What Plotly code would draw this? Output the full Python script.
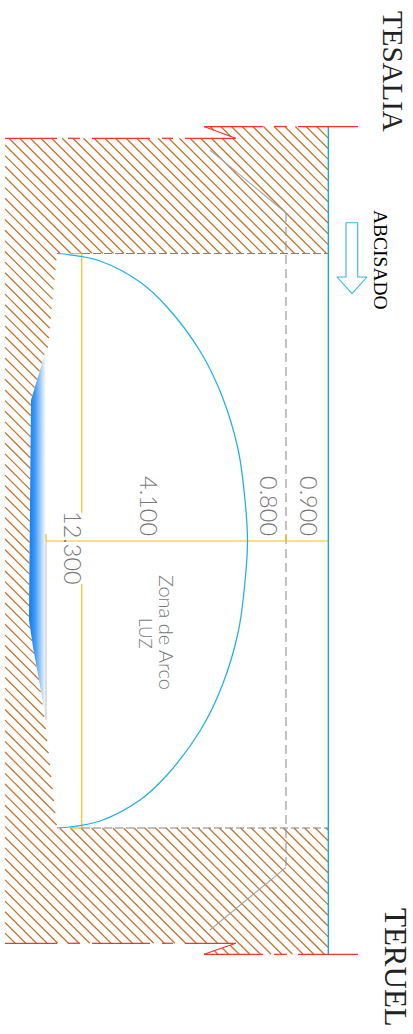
import plotly.graph_objects as go

W, H = 413, 1034

# Section outline of the rock mass around the opening
rock_x = [5, 235.7, 204, 328, 328, 57, 48, 45, 31, 30, 29, 33, 39, 45, 57, 328, 328, 204, 235.7, 5]
rock_y = [138.3, 138.3, 126.5, 126.5, 253.5, 253.5, 347, 353, 400, 507, 620, 647, 680, 722, 828, 828, 954.3, 954.3, 943.3, 943.3]
hatch_first, hatch_step, hatch_count = 140.0, 10.65, 100

# Arc of the light zone
arc_x = [57, 70, 100, 140, 167, 200, 222, 238, 245, 247.5, 245, 238, 222, 200, 167, 140, 100, 70, 57]
arc_y = [253.5, 254.8, 261, 282, 307, 351, 396, 449, 500, 541, 582, 633, 686, 731, 775, 800, 821, 827, 828]

# Blue patch on the crown
patch_x = [46, 31, 30, 29, 33, 39, 46, 46]
patch_y = [350, 400, 507, 620, 647, 680, 720, 350]

# Red break lines: (start, end) pairs
red_upper = [(204, 263), (274, 287), (298, 358)]
red_lower = [(5, 57), (68, 80), (92, 150), (162, 173), (185, 235.7)]
y_top_a, y_top_b, y_bot_a, y_bot_b = 126.5, 138.3, 954.3, 943.3

# Arrow outline
arrow_x = [346, 357.7, 357.7, 367, 352, 337, 346, 346]
arrow_y = [222.7, 222.7, 277, 277, 293.7, 277, 277, 222.7]

labels = [
    ("0.900", 309, 506, 23.5, "Lato", "#777777", 300),
    ("0.800", 269, 506, 23.5, "Lato", "#777777", 300),
    ("4.100", 149, 506, 23.5, "Lato", "#777777", 300),
    ("12.300", 73, 548, 23.5, "Lato", "#777777", 300),
    ("Zona de Arco", 167, 632, 20, "Lato", "#777777", 300),
    ("LUZ", 146, 633, 17, "Lato", "#777777", 300),
    ("TESALIA", 393, 71, 29, "Liberation Serif", "#222222", 400),
    ("TERUEL", 396, 967, 31, "Liberation Serif", "#222222", 400),
    ("ABCISADO", 381, 260, 19.5, "Liberation Serif", "#000000", 400),
]


def clip_diagonal(c, px, py):
    """Intervals of the line y = x + c that fall inside the polygon."""
    hits = []
    n = len(px)
    for i in range(n):
        x1, y1, x2, y2 = px[i], py[i], px[(i + 1) % n], py[(i + 1) % n]
        d1, d2 = y1 - x1 - c, y2 - x2 - c
        if (d1 <= 0 < d2) or (d2 <= 0 < d1):
            hits.append(x1 + (x2 - x1) * d1 / (d1 - d2))
    hits.sort()
    return [(hits[i], hits[i + 1]) for i in range(0, len(hits) - 1, 2)]


hatch_x, hatch_y = [], []
for k in range(-hatch_count, hatch_count):
    c = hatch_first + k * hatch_step
    for a, b in clip_diagonal(c, rock_x, rock_y):
        hatch_x += [a, b, None]
        hatch_y += [a + c, b + c, None]


def segs(pairs, y):
    xs, ys = [], []
    for a, b in pairs:
        xs += [a, b, None]
        ys += [y, y, None]
    return xs, ys


def line(x, y, color, width=1.0, dash=None, shape=None):
    return go.Scatter(x=x, y=y, mode="lines", hoverinfo="skip", showlegend=False,
                      line=dict(color=color, width=width, dash=dash, shape=shape, smoothing=1.0))


fig = go.Figure()
fig.add_trace(line(hatch_x, hatch_y, "#c2752c", 1.25))
fig.add_trace(go.Scatter(x=patch_x, y=patch_y, mode="none", fill="toself", hoverinfo="skip", showlegend=False,
                         fillgradient=dict(type="horizontal",
                                           colorscale=[[0, "#0a7cf6"], [0.35, "#3f98f6"], [0.7, "#a8d0fa"], [1, "#ffffff"]])))

# Grey construction lines
fig.add_trace(line([82, 328, None, 82, 328], [253.5, 253.5, None, 828, 828], "#808080", 1.2, "8px,3px"))
fig.add_trace(line([286, 286], [213, 867.3], "#999999", 1.2, "9px,5px"))
fig.add_trace(line([210, 286, None, 210, 286], [150, 213, None, 930, 867.3], "#a5a5a5", 1.1))
fig.add_trace(line([46, 46], [541, 720], "#bdbdbd", 1.0))

# Orange dimension lines
fig.add_trace(line([46, 328], [541, 541], "#ffd060", 1.5))
fig.add_trace(line([81.7, 81.7, None, 81.7, 81.7], [253.5, 512.7, None, 584, 828], "#ffc832", 1.4))
fig.add_trace(line([70, 82, None, 70, 82, None, 46, 46], [253.5, 253.5, None, 828, 828, None, 534, 541], "#f5b800", 1.2))
fig.add_trace(line([286, 286], [534, 541], "#f5b800", 1.2))

# Blue lines
fig.add_trace(line(arc_x, arc_y, "#1fb0e4", 1.25, shape="spline"))
fig.add_trace(line([328.3, 328.3], [126.5, 954.3], "#00a9e2", 1.3))
fig.add_trace(line(arrow_x, arrow_y, "#35b5e6", 1.1))

# Red break lines
for pairs, y in ((red_upper, y_top_a), (red_lower, y_top_b), (red_upper, y_bot_a), (red_lower, y_bot_b)):
    sx, sy = segs(pairs, y)
    fig.add_trace(line(sx, sy, "#ff3030", 1.25))
fig.add_trace(line([204, 235.7, None, 204, 235.7], [y_top_a, y_top_b, None, y_bot_a, y_bot_b], "#ff2a2a", 1.1))

for text, x, y, size, family, color, weight in labels:
    fig.add_annotation(x=x, y=y, xref="x", yref="y", text=text, showarrow=False, textangle=90,
                       font=dict(size=size, family=family, color=color, weight=weight),
                       xanchor="center", yanchor="middle")

fig.update_layout(
    width=W, height=H, margin=dict(l=0, r=0, t=0, b=0),
    paper_bgcolor="white", plot_bgcolor="white", showlegend=False,
    xaxis=dict(range=[0, W], visible=False, fixedrange=True),
    yaxis=dict(range=[H, 0], visible=False, fixedrange=True),
)
fig.write_html("out.html", config={"displayModeBar": False},
               post_script="document.body.style.margin='0';document.documentElement.style.overflow='hidden';")
